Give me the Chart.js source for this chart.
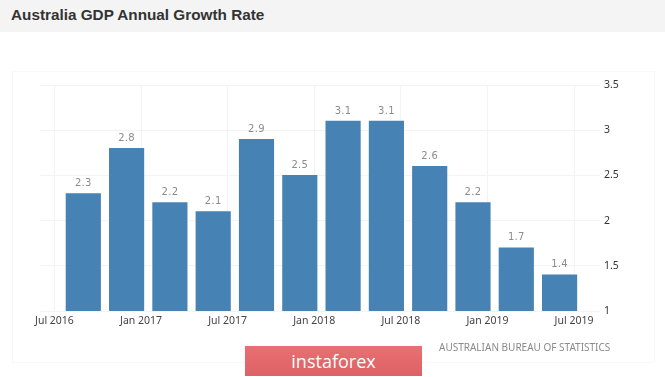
<!DOCTYPE html>
<html lang="en">
<head>
    <meta charset="UTF-8">
    <title>Australia GDP Annual Growth Rate</title>
    <script src="https://cdn.jsdelivr.net/npm/chart.js"></script>
    <style>
        html, body { margin: 0; padding: 0; background: #fff; overflow: hidden; }
        body { position: relative; width: 665px; height: 377px; }
        .head { position: absolute; left: 0; top: 0; width: 665px; height: 32px; background: #f4f4f4; }
        .head h1 { margin: 0; position: absolute; left: 11px; top: 5px; font: bold 15.3px/20px "Liberation Sans", Arial, sans-serif; color: #333; }
        .panel { position: absolute; left: 12px; top: 71px; width: 643px; height: 292px; border: 1px solid #f8f8f8; box-sizing: border-box; }
        canvas { position: absolute; left: 0; top: 0; }
        .source { position: absolute; left: 439px; top: 340px; font: 10px/14px "Noto Sans", sans-serif; color: #8a8a8a; white-space: nowrap; }
        .brand { position: absolute; left: 245px; top: 346px; width: 177px; height: 30px; background: linear-gradient(#e96f72, #dc6265); color: #fff; font: 18px/30px "Open Sans", sans-serif; text-align: center; }
    </style>
</head>
<body>
    <div class="head"><h1>Australia GDP Annual Growth Rate</h1></div>
    <div class="panel"></div>
    <canvas id="gdpChart" width="665" height="377"></canvas>
    <div class="source">AUSTRALIAN BUREAU OF STATISTICS</div>
    <div class="brand">instaforex</div>

    <script>
        // months counted from Jul 2016, bars sit on quarter ends
        const months = [2, 5, 8, 11, 14, 17, 20, 23, 26, 29, 32, 35];
        const growth = [2.3, 2.8, 2.2, 2.1, 2.9, 2.5, 3.1, 3.1, 2.6, 2.2, 1.7, 1.4];
        const xTickLabels = ['Jul 2016', 'Jan 2017', 'Jul 2017', 'Jan 2018', 'Jul 2018', 'Jan 2019', 'Jul 2019'];

        const gridColor = '#f3f3f3';

        // value labels above the bars
        const barLabels = {
            id: 'barLabels',
            afterDatasetsDraw(chart) {
                const ctx = chart.ctx;
                ctx.save();
                ctx.font = '10px "DejaVu Sans"';
                ctx.letterSpacing = '0.3px';
                ctx.fillStyle = '#8c8c8c';
                ctx.textAlign = 'center';
                ctx.textBaseline = 'middle';
                chart.getDatasetMeta(0).data.forEach((bar, i) => {
                    ctx.fillText(growth[i], bar.x, bar.y - 10);
                });
                ctx.restore();
            }
        };

        new Chart(document.getElementById('gdpChart').getContext('2d'), {
            type: 'bar',
            data: {
                datasets: [{
                    data: months.map((m, i) => ({ x: m, y: growth[i] })),
                    backgroundColor: '#4682b4',
                    barThickness: 34.5
                }]
            },
            options: {
                responsive: false,
                animation: false,
                layout: { padding: { left: 40, top: 85 } },
                plugins: { legend: { display: false }, tooltip: { enabled: false } },
                scales: {
                    x: {
                        type: 'linear',
                        offset: false,
                        min: -1,
                        max: 37.8,
                        afterFit: (scale) => { scale.height = 66; },
                        border: { display: false },
                        grid: { color: gridColor, drawTicks: false, offset: false },
                        ticks: {
                            stepSize: 6,
                            includeBounds: false,
                            autoSkip: false,
                            maxRotation: 0,
                            padding: 4,
                            color: '#444',
                            font: { family: '"Noto Sans"', size: 10.5 },
                            callback: (v) => xTickLabels[v / 6]
                        }
                    },
                    y: {
                        position: 'right',
                        min: 1,
                        max: 3.5,
                        afterFit: (scale) => { scale.width = 65; },
                        border: { display: false },
                        grid: { color: gridColor, drawTicks: false },
                        ticks: {
                            stepSize: 0.5,
                            padding: 4,
                            color: '#333',
                            font: { family: '"Noto Sans"', size: 10.5 },
                            callback: (v) => String(v)
                        }
                    }
                }
            },
            plugins: [barLabels]
        });
    </script>
</body>
</html>
